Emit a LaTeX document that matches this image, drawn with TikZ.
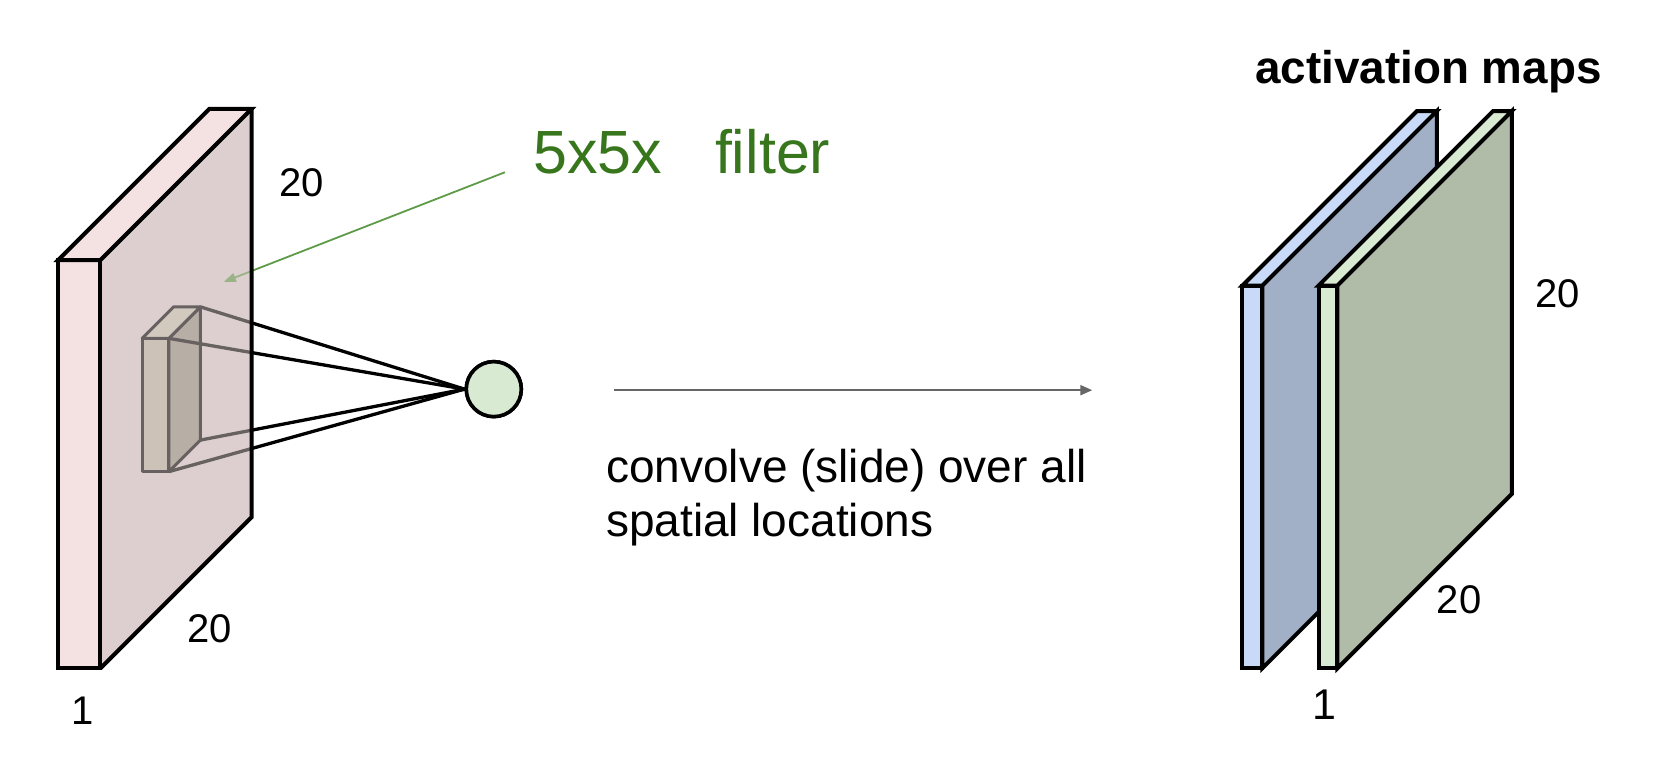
\documentclass[tikz,border=0pt]{standalone}
\usepackage{fontspec}
\setmainfont{Liberation Sans}
\usetikzlibrary{arrows.meta}
\definecolor{pinkface}{HTML}{DDCFCF}
\definecolor{pinkfront}{HTML}{F4E1E1}
\definecolor{filfront}{RGB}{189,184,164}
\definecolor{filright}{RGB}{151,145,130}
\definecolor{filtop}{RGB}{202,199,177}
\definecolor{bluefront}{HTML}{C9DAF8}
\definecolor{blueface}{HTML}{A1AFC7}
\definecolor{greenfront}{HTML}{D9EAD3}
\definecolor{greenface}{HTML}{B0BCA8}
\definecolor{darkgreen}{HTML}{38761D}
\definecolor{arrowgreen}{HTML}{5E9B48}
\definecolor{arrowgray}{HTML}{666666}
\begin{document}
\begin{tikzpicture}[x=1.0574pt,y=-1.0574pt,
  slabedge/.style={draw=black,line width=4pt,line join=miter},
  filedge/.style={draw=black,line width=3pt,line join=round},
  ray/.style={draw=black,line width=3.3pt},
  neuronstyle/.style={circle,draw=black,line width=3.6pt,fill=greenfront,minimum size=55pt,inner sep=0pt},
  dimlabel/.style={font=\fontsize{40}{48}\selectfont,inner sep=0pt},
  bodytext/.style={font=\fontsize{46}{54}\selectfont,inner sep=0pt,anchor=base west},
  greentext/.style={font=\fontsize{61}{70}\selectfont,inner sep=0pt,anchor=base west,text=darkgreen},
]
\useasboundingbox (0,0) rectangle (1568,730);

% ---------- left input slab geometry ----------
\coordinate (A) at (55,246);
\coordinate (B) at (95,246);
\coordinate (C) at (95,632);
\coordinate (D) at (55,632);
\coordinate (Ab) at (198,103);
\coordinate (Bb) at (238,103);
\coordinate (Cb) at (238,489);

% filter cuboid corners
\coordinate (f1) at (134.5,320);
\coordinate (f2) at (159.8,320);
\coordinate (f3) at (159.8,446);
\coordinate (f4) at (134.5,446);
\coordinate (g1) at (164.2,290.2);
\coordinate (g2) at (189.5,290.2);
\coordinate (g3) at (189.5,416.2);

% neuron
\node[neuronstyle] (neuron) at (467,368) {};

% base of the big face
\fill[pinkface] (B) -- (Bb) -- (Cb) -- (C) -- cycle;

% filter
\filldraw[filedge,fill=filright] (f2) -- (g2) -- (g3) -- (f3) -- cycle;
\filldraw[filedge,fill=filtop] (f1) -- (g1) -- (g2) -- (f2) -- cycle;
\filldraw[filedge,fill=filfront] (f1) -- (f2) -- (f3) -- (f4) -- cycle;

% rays from filter to neuron
\draw[ray] (g2) -- (neuron.west);
\draw[ray] (f2) -- (neuron.west);
\draw[ray] (g3) -- (neuron.west);
\draw[ray] (f3) -- (neuron.west);

% label and pointer
\node[greentext] (t5) at (504,164.5) {5x5x};
\node[greentext] (tfilter) at (676,164.5) {filter};
\coordinate (ptrstart) at (477.5,162.9);
\coordinate (ptrend) at (211.7,266.5);
\draw[arrowgreen,line width=1.8pt,-{Triangle[length=12pt,width=9pt]}] (ptrstart) -- (ptrend);

% translucent big face over what lies inside
\fill[pinkface,fill opacity=0.47] (B) -- (Bb) -- (Cb) -- (C) -- cycle;

% slab outlines and thin faces
\filldraw[slabedge,fill=pinkfront] (A) -- (B) -- (C) -- (D) -- cycle;
\filldraw[slabedge,fill=pinkfront] (A) -- (Ab) -- (Bb) -- (B) -- cycle;
\draw[slabedge] (Bb) -- (Cb) -- (C);

\node[neuronstyle] at (neuron) {};

\node[dimlabel] (l20a) at (285.5,172.5) {20};
\node[dimlabel] (l20b) at (198.5,595) {20};
\node[dimlabel] (l1a) at (78,672) {1};

% ---------- middle ----------
\coordinate (arrA) at (581,369);
\coordinate (arrB) at (1033,369);
\draw[arrowgray,line width=2pt,-{Triangle[length=12pt,width=10pt]}] (arrA) -- (arrB);
\node[bodytext] (conv1) at (573,456) {convolve (slide) over all};
\node[bodytext] (conv2) at (573,507) {spatial locations};

% ---------- activation maps ----------
% blue map
\coordinate (P1) at (1175,270);
\coordinate (P2) at (1193.8,270);
\coordinate (P3) at (1193.8,632);
\coordinate (P4) at (1175,632);
\coordinate (P5) at (1340,105);
\coordinate (P6) at (1358.8,105);
\coordinate (P7) at (1358.8,467);
\filldraw[slabedge,fill=blueface] (P2) -- (P6) -- (P7) -- (P3) -- cycle;
\filldraw[slabedge,fill=bluefront] (P1) -- (P5) -- (P6) -- (P2) -- cycle;
\filldraw[slabedge,fill=bluefront] (P1) -- (P2) -- (P3) -- (P4) -- cycle;
% green map
\coordinate (Q1) at (1247,270);
\coordinate (Q2) at (1264.8,270);
\coordinate (Q3) at (1264.8,632);
\coordinate (Q4) at (1247,632);
\coordinate (Q5) at (1412,105);
\coordinate (Q6) at (1429.8,105);
\coordinate (Q7) at (1429.8,467);
\filldraw[slabedge,fill=greenface] (Q2) -- (Q6) -- (Q7) -- (Q3) -- cycle;
\filldraw[slabedge,fill=greenfront] (Q1) -- (Q5) -- (Q6) -- (Q2) -- cycle;
\filldraw[slabedge,fill=greenfront] (Q1) -- (Q2) -- (Q3) -- (Q4) -- cycle;

\node[font=\fontsize{45.8}{54}\selectfont\bfseries,inner sep=0pt,anchor=base] (title) at (1351,79) {activation maps};
\node[dimlabel] (r20a) at (1473,278) {20};
\node[dimlabel] (r20b) at (1380,567) {20};
\node[dimlabel,font=\fontsize{43}{50}\selectfont] (r1) at (1253,666.5) {1};
\end{tikzpicture}
\end{document}
